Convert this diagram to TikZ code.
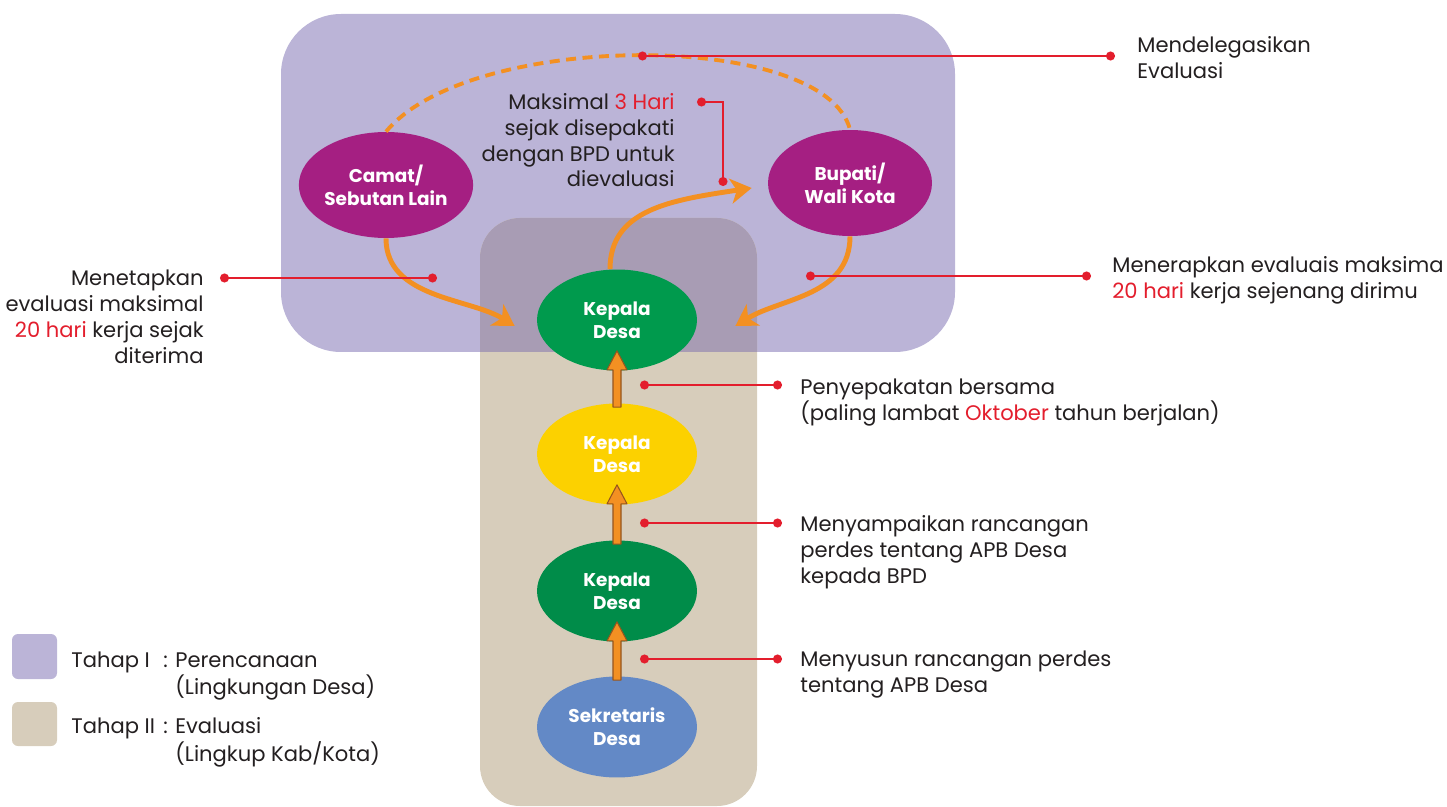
\documentclass[tikz,border=0pt]{standalone}
\usepackage{fontspec}
\setmainfont{Poppins}
\usetikzlibrary{shapes.geometric,arrows.meta,calc,positioning}
\definecolor{ungu}{RGB}{187,180,215}
\definecolor{krem}{RGB}{215,205,187}
\definecolor{tumpang}{RGB}{168,156,180}
\definecolor{ungutua}{RGB}{165,31,130}
\definecolor{hijaumuda}{RGB}{0,154,77}
\definecolor{kuning}{RGB}{252,209,0}
\definecolor{hijautua}{RGB}{0,140,73}
\definecolor{biru}{RGB}{99,137,198}
\definecolor{oranye}{RGB}{243,144,34}
\definecolor{coklat}{RGB}{150,85,30}
\definecolor{merah}{RGB}{227,30,45}
\definecolor{teks}{RGB}{35,31,32}
\newcommand{\hl}[1]{\textcolor{merah}{#1}}
\newcommand{\naik}[2]{%
  \draw[blokpanah] ($(#1.north)+(-4,4)$) -- ($(#2.south)+(-4,-1)$) -- ($(#2.south)+(-10,-1)$)
    -- ($(#2.south)+(0,-20)$) -- ($(#2.south)+(10,-1)$) -- ($(#2.south)+(4,-1)$)
    -- ($(#1.north)+(4,4)$) -- cycle;}

\begin{document}
\begin{tikzpicture}[x=0.02cm,y=-0.02cm,
  elips/.style={ellipse, minimum width=3.2cm, minimum height=2.02cm, inner sep=0pt,
    align=center, text=white, font=\fontsize{10.5}{13}\selectfont\bfseries},
  ket/.style={inner sep=0pt, text=teks, font=\fontsize{12}{14.7}\selectfont},
  callout/.style={draw=merah, line width=0.85pt, {Circle[length=0.18cm]}-{Circle[length=0.18cm]}},
  lengkung/.style={draw=oranye, line width=2.8pt, -{Stealth[length=0.42cm,width=0.5cm,inset=0.12cm]}},
  blokpanah/.style={fill=oranye, draw=coklat, line width=0.6pt, line join=round}]
\useasboundingbox (0,0) rectangle (1447,807);

% latar tahap
\fill[ungu, rounded corners=1.2cm] (281,14) rectangle (955,352);
\fill[krem, rounded corners=0.8cm] (480,218) rectangle (757,806);
\begin{scope}
  \clip[rounded corners=1.2cm] (281,14) rectangle (955,352);
  \fill[tumpang, rounded corners=0.8cm] (480,218) rectangle (757,806);
\end{scope}

% aktor
\node[elips, fill=ungutua, minimum width=3.28cm, minimum height=2.12cm] (camat) at (386,185) {Camat/\\Sebutan Lain};
\node[elips, fill=ungutua, minimum width=3.28cm, minimum height=2.12cm] (bupati) at (850,183) {Bupati/\\Wali Kota};
\node[elips, fill=hijaumuda] (kdtop) at (617,320) {Kepala\\Desa};
\node[elips, fill=kuning] (kdkuning) at (617,454) {Kepala\\Desa};
\node[elips, fill=hijautua] (kdhijau) at (617,591) {Kepala\\Desa};
\node[elips, fill=biru] (sekdes) at (617,727) {Sekretaris\\Desa};

% panah
\naik{sekdes}{kdhijau}
\naik{kdhijau}{kdkuning}
\naik{kdkuning}{kdtop}
\draw[lengkung] (camat.south) .. controls +(0,60) and +(-45,-28) .. ($(kdtop.west)+(-22,6)$);
\draw[lengkung] (bupati.south) .. controls +(0,60) and +(45,-28) .. ($(kdtop.east)+(38,6)$);
\draw[lengkung] ($(kdtop.north)+(-7,0)$) .. controls +(0,-60) and +(-80,12) .. ($(bupati.west)+(-16,5)$);
\draw[oranye, line width=2.2pt, dash pattern=on 0.2cm off 0.13cm] (camat.north) .. controls (470,30) and (825,30) .. (bupati.north);

% titik keterangan
\coordinate (d1) at (638,56);   \coordinate (d1b) at (1115,56);
\coordinate (d2) at (697,102);  \coordinate (d2b) at (723,186);
\coordinate (d3) at (437,278);  \coordinate (d3b) at (220,278);
\coordinate (d4) at (806,276);  \coordinate (d4b) at (1091,276);
\coordinate (d5) at (640,385);  \coordinate (d5b) at (782,385);
\coordinate (d6) at (640,523);  \coordinate (d6b) at (782,523);
\coordinate (d7) at (640,659);  \coordinate (d7b) at (782,659);
\draw[callout] (d1) -- (d1b);
\draw[callout] (d2) -| (d2b);
\draw[callout] (d3) -- (d3b);
\draw[callout] (d4) -- (d4b);
\draw[callout] (d5) -- (d5b);
\draw[callout] (d6) -- (d6b);
\draw[callout] (d7) -- (d7b);

% keterangan
\node[ket, anchor=north west, align=left] (t1) at (1137,36) {Mendelegasikan\\Evaluasi};
\node[ket, anchor=north east, align=right] (t2) at (675,93) {Maksimal \hl{3 Hari}\\sejak disepakati\\dengan BPD untuk\\dievaluasi};
\node[ket, anchor=north east, align=right] (t3) at (204,270) {Menetapkan\\evaluasi maksimal\\\hl{20 hari} kerja sejak\\diterima};
\node[ket, anchor=north west, align=left] (t4) at (1112,256) {Menerapkan evaluais maksima\\\hl{20 hari} kerja sejenang dirimu};
\node[ket, anchor=north west, align=left] (t5) at (800,379) {Penyepakatan bersama\\(paling lambat \hl{Oktober} tahun berjalan)};
\node[ket, anchor=north west, align=left] (t6) at (800,515) {Menyampaikan rancangan\\perdes tentang APB Desa\\kepada BPD};
\node[ket, anchor=north west, align=left] (t7) at (800,651) {Menyusun rancangan perdes\\tentang APB Desa};

% legenda
\fill[ungu, rounded corners=0.12cm] (12,634) rectangle (57,679);
\fill[krem, rounded corners=0.12cm] (12,702) rectangle (57,746);
\node[ket, anchor=north west] (leg1) at (71,649) {\begin{tabular}{@{}p{1.84cm}@{}l@{}}Tahap I & : Perencanaan\\ & \phantom{: }(Lingkungan Desa)\end{tabular}};
\node[ket, anchor=north west] (leg2) at (71,715) {\begin{tabular}{@{}p{1.84cm}@{}l@{}}Tahap II & : Evaluasi\\ & \phantom{: }(Lingkup Kab/Kota)\end{tabular}};
\end{tikzpicture}
\end{document}
